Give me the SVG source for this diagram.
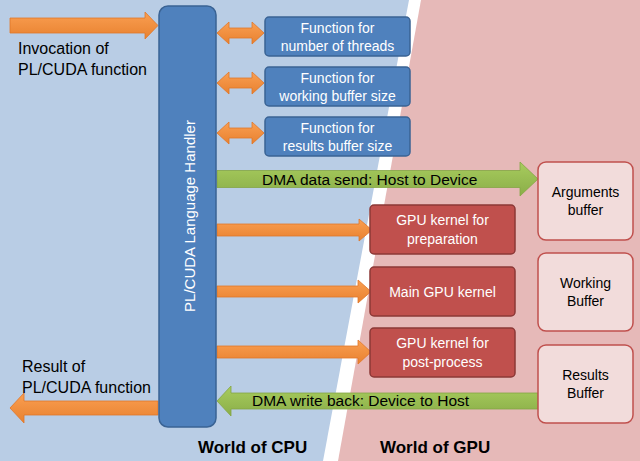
<svg xmlns="http://www.w3.org/2000/svg" width="640" height="461" viewBox="0 0 640 461">
<defs>
<linearGradient id="og" x1="0" y1="0" x2="0" y2="1"><stop offset="0" stop-color="#fa9f52"/><stop offset="1" stop-color="#e8812f"/></linearGradient>
<linearGradient id="gg" x1="0" y1="0" x2="0" y2="1"><stop offset="0" stop-color="#a8cc5e"/><stop offset="1" stop-color="#8aae48"/></linearGradient>
<style>
text{font-family:"Liberation Sans",Arial,sans-serif}
.bl{fill:#4f81bd;stroke:#3a6394;stroke-width:1.5}
.rd{fill:#c0504d;stroke:#8c3836;stroke-width:1.5}
.bf{fill:#f2dcdb;stroke:#c0504d;stroke-width:1.5}
.wt{fill:#fff;font-size:14px;text-anchor:middle}
.bk{fill:#000;font-size:14px;text-anchor:middle}
.or{fill:url(#og);stroke:#e0762a;stroke-width:0.8}
.gr{fill:url(#gg);stroke:#84a545;stroke-width:0.8}
.lbl{fill:#000;font-size:16px}
.dma{fill:#000;font-size:15.5px}
.world{fill:#000;font-size:17px;font-weight:bold}
</style>
</defs>
<rect x="0" y="0" width="640" height="461" fill="#b9cde5"/>
<polygon points="409,0 640,0 640,461 323,461" fill="#ffffff"/>
<polygon points="421,0 640,0 640,461 338,461" fill="#e6b9b8"/>

<g id="connectors">
<path class="or" d="M10,18 H145 V12 L158,25.5 L145,39 V33 H10 Z"/>
<path class="or" d="M217,33 L229,22 V28 H252 V22 L264,33 L252,44 V38 H229 V44 Z"/>
<path class="or" d="M217,83 L229,72 V78 H252 V72 L264,83 L252,94 V88 H229 V94 Z"/>
<path class="or" d="M217,133 L229,122 V128 H252 V122 L264,133 L252,144 V138 H229 V144 Z"/>
<path class="gr" d="M217,170.5 H520 V162 L538,179 L520,196 V187.5 H217 Z"/>
<path class="or" d="M217,224 H359 V219 L372,230 L359,241 V236 H217 Z"/>
<path class="or" d="M217,286 H358 V280 L371,291.5 L358,303 V297 H217 Z"/>
<path class="or" d="M217,346 H358 V340 L371,352 L358,364 V358 H217 Z"/>
<path class="gr" d="M538,393 H231 V386 L217,401 L231,416 V409 H538 Z"/>
<path class="or" d="M158,401 H24 V393 L10,408 L24,423 V415 H158 Z"/>
</g>

<g id="handler">
<rect class="bl" x="159" y="6" width="57" height="421" rx="9"/>
<text class="wt" style="font-size:15px" transform="translate(194.5,216) rotate(-90)">PL/CUDA Language Handler</text>
</g>

<g id="fn-threads">
<rect class="bl" x="265" y="17" width="145" height="39" rx="4"/>
<text class="wt" x="337.5" y="33">Function for</text>
<text class="wt" x="337.5" y="51">number of threads</text>
</g>
<g id="fn-working">
<rect class="bl" x="265" y="67" width="145" height="39" rx="4"/>
<text class="wt" x="337.5" y="83">Function for</text>
<text class="wt" x="337.5" y="101">working buffer size</text>
</g>
<g id="fn-results">
<rect class="bl" x="265" y="117" width="145" height="39" rx="4"/>
<text class="wt" x="337.5" y="133">Function for</text>
<text class="wt" x="337.5" y="151">results buffer size</text>
</g>

<g id="k-prep">
<rect class="rd" x="370" y="205" width="145" height="49" rx="4"/>
<text class="wt" x="442.5" y="225">GPU kernel for</text>
<text class="wt" x="442.5" y="244">preparation</text>
</g>
<g id="k-main">
<rect class="rd" x="370" y="267" width="145" height="49" rx="4"/>
<text class="wt" x="442.5" y="297">Main GPU kernel</text>
</g>
<g id="k-post">
<rect class="rd" x="370" y="328" width="145" height="49" rx="4"/>
<text class="wt" x="442.5" y="348">GPU kernel for</text>
<text class="wt" x="442.5" y="367">post-process</text>
</g>

<g id="buf-args">
<rect class="bf" x="538" y="162" width="95" height="78" rx="8"/>
<text class="bk" x="585.5" y="197">Arguments</text>
<text class="bk" x="585.5" y="215">buffer</text>
</g>
<g id="buf-work">
<rect class="bf" x="538" y="253" width="95" height="78" rx="8"/>
<text class="bk" x="585.5" y="288">Working</text>
<text class="bk" x="585.5" y="306">Buffer</text>
</g>
<g id="buf-res">
<rect class="bf" x="538" y="345" width="95" height="78" rx="8"/>
<text class="bk" x="585.5" y="380">Results</text>
<text class="bk" x="585.5" y="398">Buffer</text>
</g>

<g id="labels">
<text class="lbl" x="18" y="54">Invocation of</text>
<text class="lbl" x="18" y="75">PL/CUDA function</text>
<text class="lbl" x="22" y="372">Result of</text>
<text class="lbl" x="22" y="393">PL/CUDA function</text>
<text class="dma" x="262" y="185">DMA data send: Host to Device</text>
<text class="dma" x="252" y="406">DMA write back: Device to Host</text>
<text class="world" x="198" y="453">World of CPU</text>
<text class="world" x="380" y="453">World of GPU</text>
</g>
</svg>
